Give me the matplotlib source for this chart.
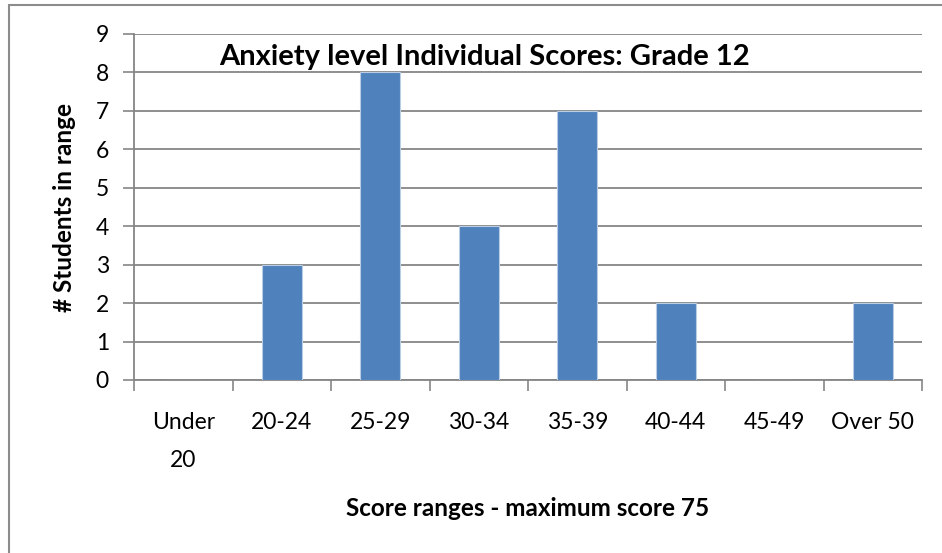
import matplotlib.pyplot as plt
from matplotlib.patches import Rectangle
import numpy as np

categories = ["Under\n20", "20-24", "25-29", "30-34", "35-39", "40-44", "45-49", "Over 50"]
counts = [0, 3, 8, 4, 7, 2, 0, 2]
y_ticks = list(range(0, 10))

title = "Anxiety level Individual Scores: Grade 12"
x_label = "Score ranges - maximum score 75"
y_label = "# Students in range"

plt.rcParams["font.family"] = ["Lato", "DejaVu Sans"]

W, H = 942, 553
fig = plt.figure(figsize=(W / 100, H / 100), dpi=100)

# outer chart frame (cropped on the right and bottom like the original)
fig.patches.append(Rectangle((9 / W, -0.02), 1.0, 1 - 5 / H + 0.02,
                             transform=fig.transFigure, fill=False,
                             edgecolor="#8c8c8c", linewidth=1.5))

ax = fig.add_axes([134 / W, 1 - 380 / H, (922 - 134) / W, (380 - 34) / H])

x = np.arange(len(categories))
ax.bar(x, counts, width=0.41, color="#4f81bd", edgecolor="#b9cde5",
       linewidth=0.8, zorder=3)

ax.set_xlim(-0.5, len(categories) - 0.5)
ax.set_ylim(0, 9)
ax.set_yticks(y_ticks)
ax.set_xticks(x)
ax.set_xticklabels(categories, fontsize=16.5, linespacing=2.0, va="top")
ax.set_xticks(np.arange(-0.5, len(categories)), minor=True)
ax.tick_params(axis="x", which="major", length=0, pad=23)
ax.tick_params(axis="x", which="minor", length=8, color="#868686", width=1.2)
ax.tick_params(axis="y", length=8, color="#868686", width=1.2, labelsize=16.5, pad=10)

ax.grid(axis="y", color="#868686", linewidth=1.3, zorder=0)
for s in ["top", "right"]:
    ax.spines[s].set_visible(False)
for s in ["left", "bottom"]:
    ax.spines[s].set_color("#868686")
    ax.spines[s].set_linewidth(1.3)

fig.text(485 / W, 1 - 57 / H, title, fontsize=21, fontweight="bold",
         ha="center", va="center")
fig.text(528 / W, 1 - 508 / H, x_label, fontsize=17.5, fontweight="bold",
         ha="center", va="center")
fig.text(64 / W, 1 - 207 / H, y_label, fontsize=17.5, fontweight="bold",
         rotation=90, ha="center", va="center")

fig.savefig("out.png", dpi=100)
